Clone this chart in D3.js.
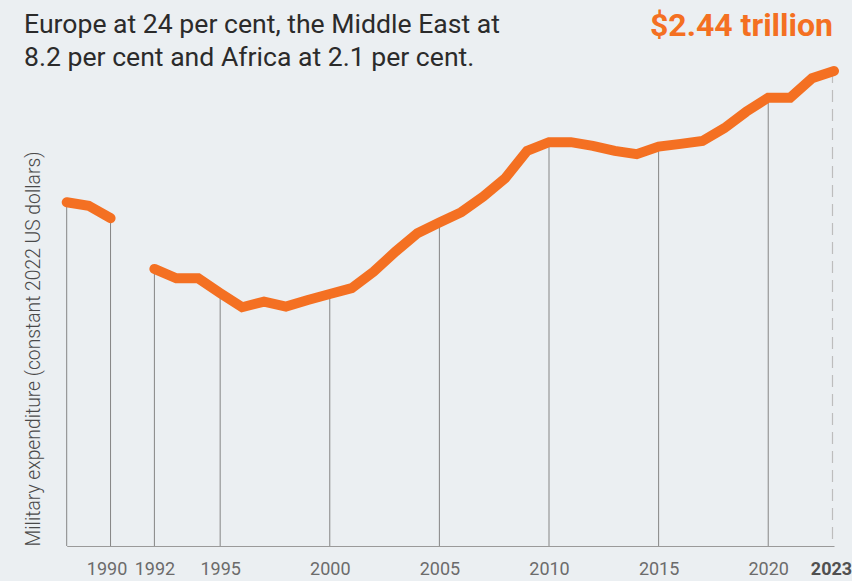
<!DOCTYPE html>
<html>
<head>
<meta charset="utf-8">
<script src="https://cdn.jsdelivr.net/npm/d3@7"></script>
<style>
  html, body { margin: 0; padding: 0; background: #ebeff2; }
  svg { display: block; font-family: Roboto, "Noto Sans", sans-serif; }
</style>
</head>
<body>
<div id="chart"></div>
<script>
// World military expenditure, billions of constant 2022 US dollars (1991 missing)
var years = [1988, 1989, 1990, 1991, 1992, 1993, 1994, 1995, 1996, 1997, 1998, 1999,
    2000, 2001, 2002, 2003, 2004, 2005, 2006, 2007, 2008, 2009, 2010, 2011,
    2012, 2013, 2014, 2015, 2016, 2017, 2018, 2019, 2020, 2021, 2022, 2023];
var spending = [1768, 1750, 1686, null, 1425, 1377, 1377, 1301, 1228, 1257, 1231, 1265,
    1296, 1326, 1411, 1514, 1609, 1664, 1717, 1797, 1891, 2032, 2077, 2077,
    2058, 2032, 2015, 2054, 2068, 2083, 2149, 2234, 2306, 2306, 2406, 2443];
var dropYears = [1988, 1990, 1992, 1995, 2000, 2005, 2010, 2015, 2020];
var tickYears = [1990, 1992, 1995, 2000, 2005, 2010, 2015, 2020, 2023];
var introLines = [
    "Europe at 24 per cent, the Middle East at",
    "8.2 per cent and Africa at 2.1 per cent."
];
var totalLabel = "$2.44 trillion";
var yLabel = "Military expenditure (constant 2022 US dollars)";

var width = 852, height = 581;
var orange = "#f47022";

var data = years.map(function(y, i) { return { year: y, value: spending[i] }; });
var last = data[data.length - 1];

var svg = d3.select("#chart").append("svg")
    .attr("width", width)
    .attr("height", height);

var x = d3.scaleLinear().domain([1988, 2023]).range([66.7, 834]);
var y = d3.scaleLinear().domain([0, 2443]).range([546, 71]);

// intro text
svg.append("g").selectAll("text")
    .data(introLines)
    .enter().append("text")
    .attr("x", 24)
    .attr("y", function(d, i) { return 33 + i * 33; })
    .attr("font-size", 26.6)
    .attr("fill", "#2b2b2b")
    .text(function(d) { return d; });

svg.append("text")
    .attr("x", 833)
    .attr("y", 36)
    .attr("text-anchor", "end")
    .attr("font-size", 32)
    .attr("font-weight", 700)
    .attr("fill", orange)
    .text(totalLabel);

// y axis title
svg.append("text")
    .attr("transform", "translate(40,349) rotate(-90)")
    .attr("text-anchor", "middle")
    .attr("font-size", 19.3)
    .attr("font-weight", 300)
    .attr("fill", "#4a4a4a")
    .text(yLabel);

// drop lines
var byYear = {};
data.forEach(function(d) { byYear[d.year] = d.value; });

svg.append("g").selectAll("line")
    .data(dropYears)
    .enter().append("line")
    .attr("x1", function(d) { return x(d); })
    .attr("x2", function(d) { return x(d); })
    .attr("y1", function(d) { return y(byYear[d]); })
    .attr("y2", y(0))
    .attr("stroke", "#858585")
    .attr("stroke-width", 1);

svg.append("line")
    .attr("x1", x(last.year) - 1.5)
    .attr("x2", x(last.year) - 1.5)
    .attr("y1", y(last.value))
    .attr("y2", y(0))
    .attr("stroke", "#bdbdbd")
    .attr("stroke-width", 1.2)
    .attr("stroke-dasharray", "12,7");

// x axis
var xAxis = d3.axisBottom(x)
    .tickValues(tickYears)
    .tickSize(0)
    .tickSizeOuter(0)
    .tickPadding(16)
    .tickFormat(d3.format("d"));

var ax = svg.append("g")
    .attr("transform", "translate(0," + y(0) + ")")
    .call(xAxis);
ax.select(".domain").attr("stroke", "#9a9a9a").attr("stroke-width", 1.2);
ax.selectAll("text")
    .attr("font-family", "Roboto, sans-serif")
    .attr("font-size", 18)
    .attr("fill", "#6b6b6b");
ax.selectAll("text")
    .filter(function(d) { return d === 1990; })
    .attr("dx", -4);
ax.selectAll("text")
    .filter(function(d) { return d === 2023; })
    .attr("font-weight", 700)
    .attr("fill", "#505050")
    .attr("dx", -3);

// line
var line = d3.line()
    .defined(function(d) { return d.value !== null; })
    .x(function(d) { return x(d.year); })
    .y(function(d) { return y(d.value); });

svg.append("path")
    .datum(data)
    .attr("d", line)
    .attr("fill", "none")
    .attr("stroke", orange)
    .attr("stroke-width", 10)
    .attr("stroke-linecap", "round")
    .attr("stroke-linejoin", "miter");
</script>
</body>
</html>
